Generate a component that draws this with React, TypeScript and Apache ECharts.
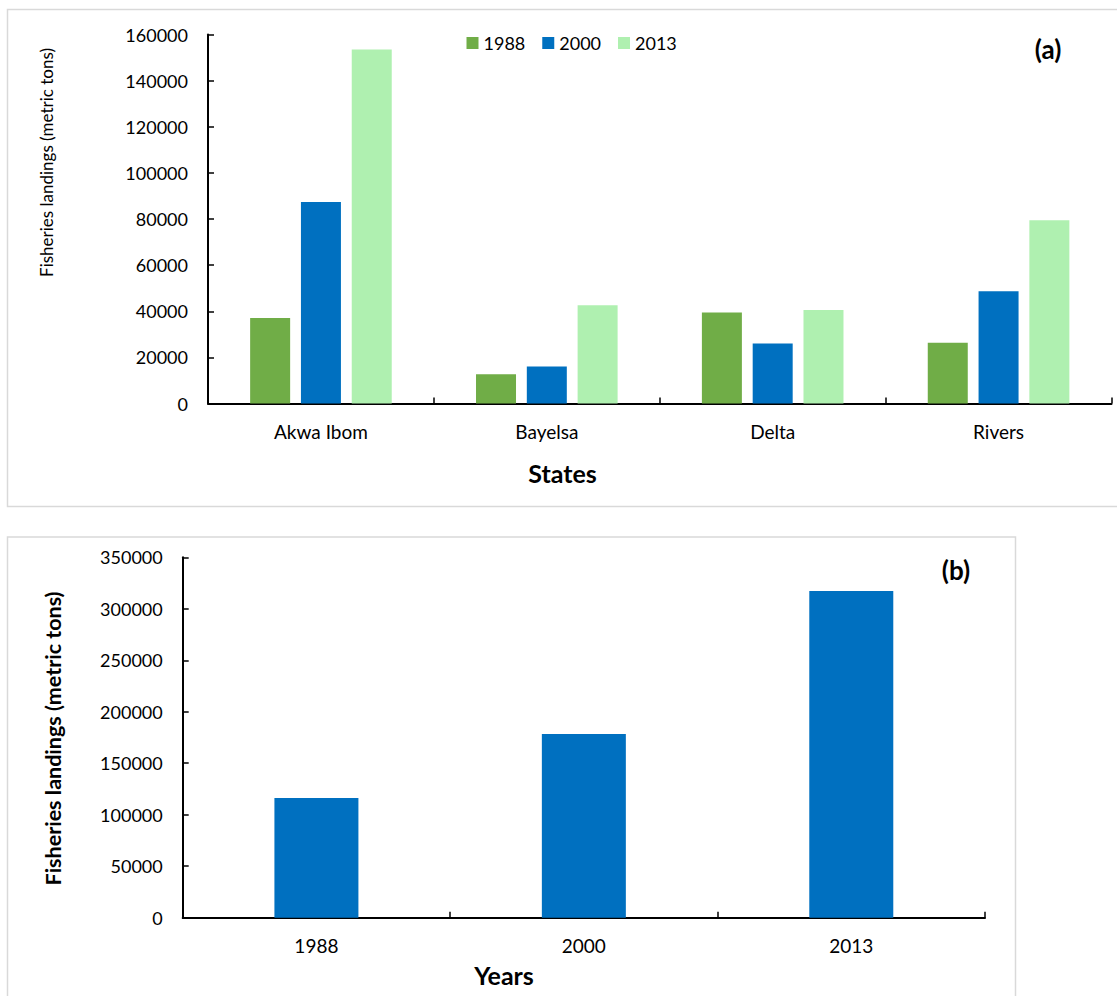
import React, { useEffect, useRef } from "react";
import * as echarts from "echarts";

// Fisheries landings per state (panel a) and totals per year (panel b)
const states = ["Akwa Ibom", "Bayelsa", "Delta", "Rivers"];
const years = ["1988", "2000", "2013"];
const landings1988 = [37100, 12700, 39500, 26300];
const landings2000 = [87400, 16000, 26000, 48700];
const landings2013 = [153500, 42600, 40500, 79500];
const totalsByYear = [116200, 178400, 317300];

const yTicksA = { min: 0, max: 160000, interval: 20000 };
const yTicksB = { min: 0, max: 350000, interval: 50000 };

const FONT = "Lato";
const seriesColors = ["#70AD47", "#0070C0", "#AFF0B0"];

const axisLineStyle = { color: "#000", width: 2 };

export default function App() {
  const ref = useRef<HTMLDivElement>(null);

  useEffect(() => {
    if (!ref.current) return;
    const chart = echarts.init(ref.current, undefined, { renderer: "svg" });

    const valueAxis = (gridIndex: number, t: { min: number; max: number; interval: number }) => ({
      type: "value",
      gridIndex,
      min: t.min,
      max: t.max,
      interval: t.interval,
      axisLine: { show: true, lineStyle: axisLineStyle },
      axisTick: { show: true, inside: true, length: 6, lineStyle: { color: "#000", width: 1.5 } },
      splitLine: { show: false },
      axisLabel: {
        color: "#000",
        fontSize: 18,
        fontFamily: FONT,
        margin: 20,
        formatter: (v: number) => String(v),
      },
    });

    const categoryAxis = (gridIndex: number, data: string[]) => ({
      type: "category",
      gridIndex,
      data,
      axisLine: { show: true, lineStyle: axisLineStyle },
      axisTick: { show: true, inside: true, length: 6, alignWithLabel: false, lineStyle: { color: "#000", width: 1.5 } },
      axisLabel: { color: "#000", fontSize: 19, fontFamily: FONT, margin: 18 },
    });

    const yearSeries = [landings1988, landings2000, landings2013].map((values, i) => ({
      name: years[i],
      type: "bar",
      xAxisIndex: 0,
      yAxisIndex: 0,
      data: values,
      barWidth: 40,
      barGap: "27%",
      itemStyle: { color: seriesColors[i] },
    }));

    const label = (
      text: string,
      x: number,
      y: number,
      fontSize: number,
      bold: boolean,
      vertical = false
    ) => ({
      type: "text",
      x,
      y,
      rotation: vertical ? Math.PI / 2 : 0,
      style: {
        text,
        fontSize,
        fontWeight: bold ? "bold" : "normal",
        fontFamily: FONT,
        fill: "#000",
        align: "center",
        verticalAlign: "middle",
      },
    });

    chart.setOption({
      animation: false,
      backgroundColor: "#fff",
      textStyle: { fontFamily: FONT },
      grid: [
        { left: 208, right: 5.5, top: 34.5, bottom: 592.5, containLabel: false },
        { left: 182.7, right: 132, top: 557.3, bottom: 78.3, containLabel: false },
      ],
      legend: {
        data: years,
        left: 466.5,
        top: 34,
        padding: 0,
        icon: "rect",
        itemWidth: 12,
        itemHeight: 12,
        itemGap: 17,
        textStyle: { color: "#000", fontSize: 18, fontFamily: FONT },
      },
      xAxis: [categoryAxis(0, states), categoryAxis(1, years)],
      yAxis: [valueAxis(0, yTicksA), valueAxis(1, yTicksB)],
      series: [
        ...yearSeries,
        {
          name: "Total",
          type: "bar",
          xAxisIndex: 1,
          yAxisIndex: 1,
          data: totalsByYear,
          barWidth: 84,
          itemStyle: { color: "#0070C0" },
        },
      ],
      graphic: [
        // panel frames
        {
          type: "rect",
          shape: { x: 7.5, y: 9.5, width: 1115, height: 497 },
          style: { fill: "none", stroke: "#d9d9d9", lineWidth: 1.5 },
          silent: true,
          z: -1,
        },
        {
          type: "rect",
          shape: { x: 7.5, y: 537, width: 1008, height: 470 },
          style: { fill: "none", stroke: "#d9d9d9", lineWidth: 1.5 },
          silent: true,
          z: -1,
        },
        // axis titles and panel letters
        label("Fisheries landings (metric tons)", 46, 162.5, 17, false, true),
        label("States", 562.5, 473, 25, true),
        label("(a)", 1048, 49, 26, true),
        label("Fisheries landings (metric tons)", 53, 738.5, 21.5, true, true),
        label("Years", 504, 975, 25, true),
        label("(b)", 956, 570, 26, true),
      ],
    });

    return () => chart.dispose();
  }, []);

  return (
    <div
      ref={ref}
      style={{ position: "absolute", left: 0, top: 0, width: 1117, height: 996 }}
    />
  );
}
